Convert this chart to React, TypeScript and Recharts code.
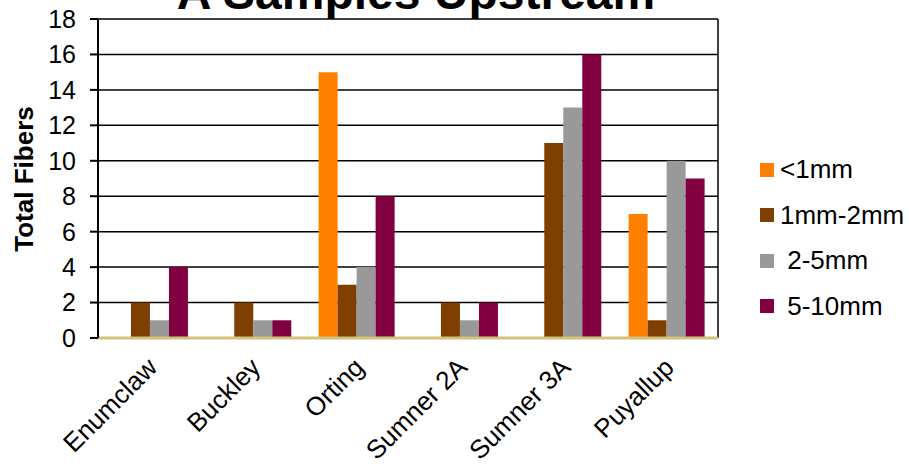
import { Bar, BarChart, CartesianGrid, XAxis, YAxis } from 'recharts';

const sites = ['Enumclaw', 'Buckley', 'Orting', 'Sumner 2A', 'Sumner 3A', 'Puyallup'];
const under1mm = [0, 0, 15, 0, 0, 7];
const mm1to2 = [2, 2, 3, 2, 11, 1];
const mm2to5 = [1, 1, 4, 1, 13, 10];
const mm5to10 = [4, 1, 8, 2, 16, 9];
const yTicks = [0, 2, 4, 6, 8, 10, 12, 14, 16, 18];

const series = [
  { key: 'under1', name: '<1mm', color: '#ff8000', values: under1mm },
  { key: 'one2', name: '1mm-2mm', color: '#7f3f00', values: mm1to2 },
  { key: 'two5', name: ' 2-5mm', color: '#999999', values: mm2to5 },
  { key: 'five10', name: ' 5-10mm', color: '#800040', values: mm5to10 },
];

const data = sites.map((site, i) => {
  const row: Record<string, string | number> = { site };
  series.forEach((s) => (row[s.key] = s.values[i]));
  return row;
});

const font = '"Liberation Sans", Arial, sans-serif';

function SiteTick({ x, y, payload }: any) {
  return (
    <g transform={`translate(${x - 4},${y + 10})`}>
      <text x={0} y={0} dy="0.71em" transform="rotate(-45)" textAnchor="end" fontSize={26} fill="#000" fontFamily={font}>
        {payload.value}
      </text>
    </g>
  );
}

export default function App() {
  return (
    <div style={{ position: 'absolute', left: 0, top: 0, width: 909, height: 468, background: '#fff', overflow: 'hidden' }}>
      <BarChart
        width={909}
        height={468}
        data={data}
        margin={{ top: 19, right: 191, left: 0, bottom: 0 }}
        barCategoryGap="13.5%"
        barGap={0}
      >
        <CartesianGrid
          stroke="#000"
          strokeWidth={1.5}
          vertical
          verticalCoordinatesGenerator={({ offset }: any) => [offset.left + offset.width]}
        />
        <XAxis
          dataKey="site"
          height={130}
          interval={0}
          tickLine={false}
          axisLine={{ stroke: '#d2c27a', strokeWidth: 3 }}
          tick={<SiteTick />}
        />
        <YAxis
          width={98}
          domain={[0, 18]}
          ticks={yTicks}
          interval={0}
          tickSize={8}
          tickMargin={14}
          axisLine={{ stroke: '#000', strokeWidth: 2 }}
          tickLine={{ stroke: '#000', strokeWidth: 2 }}
          tick={{ fontSize: 25, fill: '#000', fontFamily: font }}
        />
        {series.map((s) => (
          <Bar key={s.key} dataKey={s.key} name={s.name} fill={s.color} isAnimationActive={false} />
        ))}
      </BarChart>
      <div style={{ position: 'absolute', left: 760, top: 147, fontFamily: font, fontSize: 26, color: '#000' }}>
        {series.map((s) => (
          <div key={s.key} style={{ display: 'flex', alignItems: 'center', height: 45.5 }}>
            <span style={{ width: 14, height: 14, background: s.color, display: 'inline-block', marginRight: 6 }} />
            <span style={{ whiteSpace: 'pre' }}>{s.name}</span>
          </div>
        ))}
      </div>
      <svg width={909} height={468} style={{ position: 'absolute', left: 0, top: 0, pointerEvents: 'none' }}>
        <text x={416} y={9} textAnchor="middle" fontSize={48} fontWeight="bold" fontFamily={font} fill="#000">
          A Samples Upstream
        </text>
        <text
          x={33}
          y={179}
          transform="rotate(-90 33 179)"
          textAnchor="middle"
          fontSize={26}
          fontWeight="bold"
          fontFamily={font}
          fill="#000"
        >
          Total Fibers
        </text>
      </svg>
    </div>
  );
}
